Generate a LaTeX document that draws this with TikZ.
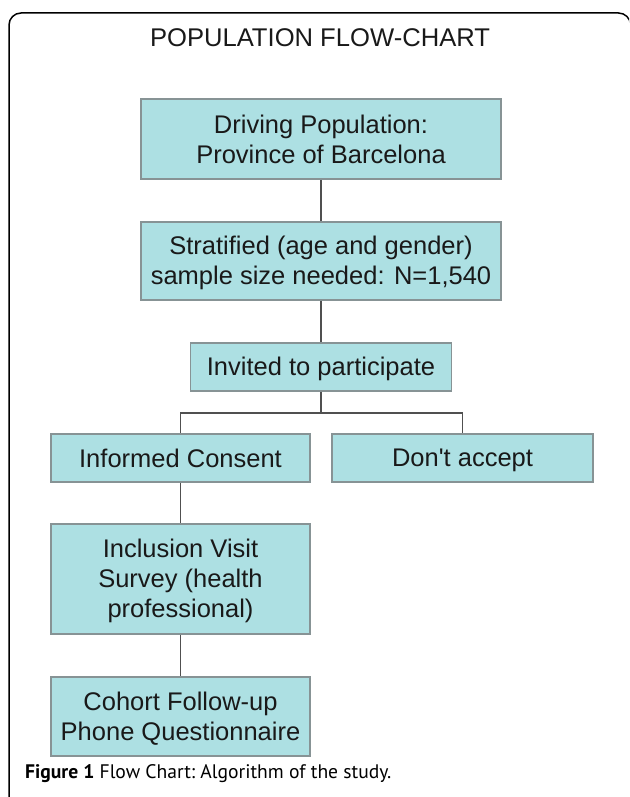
\documentclass[tikz,border=0pt]{standalone}
\usepackage{fontspec}
\setmainfont{Liberation Sans}
\newfontfamily\capfont{PT Sans}
\definecolor{boxfill}{RGB}{173,224,227}
\definecolor{boxline}{RGB}{135,147,149}
\definecolor{conn}{RGB}{80,80,80}
\definecolor{txt}{RGB}{25,25,25}
\newcommand\bs{\rule[-4pt]{0pt}{26.4pt}}
\begin{document}
\begin{tikzpicture}[x=1pt,y=-1pt,
  stepbox/.style={draw=boxline, line width=1.8pt, fill=boxfill, text=txt,
    font=\fontsize{25.5}{30}\selectfont, align=center, inner sep=0pt},
  link/.style={draw=conn, line width=1.6pt},
  frame/.style={draw=black, line width=1.5pt, rounded corners=12pt}]
\useasboundingbox (0,0) rectangle (629,797);
\clip (0,0) rectangle (629,797);
\draw[frame] (9,830) -- (9,13) -- (630.5,13) -- (630.5,830);
\node[anchor=base, text=txt, font=\fontsize{25.6}{30}\selectfont, inner sep=0pt] (title) at (320,47) {POPULATION FLOW-CHART};
\node[stepbox, minimum width=360pt, minimum height=80pt] (b1) at (321,139) {\bs Driving Population:\\\bs Province of Barcelona};
\node[stepbox, minimum width=360pt, minimum height=78pt] (b2) at (321,261) {\bs Stratified (age and gender)\\\bs sample size needed: N=1,540};
\node[stepbox, minimum width=261pt, minimum height=48pt] (b3) at (321,367) {\bs Invited to participate};
\node[stepbox, minimum width=259pt, minimum height=48pt] (b4) at (180.5,458) {\bs Informed Consent};
\node[stepbox, minimum width=261pt, minimum height=48pt] (b5) at (462.5,458) {\bs Don\textquotesingle t accept};
\node[stepbox, minimum width=259pt, minimum height=110pt] (b6) at (180.5,579) {\bs Inclusion Visit\\\bs Survey (health\\\bs professional)};
\node[stepbox, minimum width=259pt, minimum height=79pt] (b7) at (180.5,716.5) {\bs Cohort Follow-up\\\bs Phone Questionnaire};
\coordinate (j) at (321,413);
\draw[link] (b1.south) -- (b2.north);
\draw[link] (b2.south) -- (b3.north);
\draw[link] (b3.south) -- (j);
\draw[link] (b4.north) |- (j) -| (b5.north);
\draw[link] (b4.south) -- (b6.north);
\draw[link] (b6.south) -- (b7.north);
\node[anchor=base west, inner sep=0pt, text=black, font=\capfont\fontsize{19.6}{24}\selectfont] (cap) at (25,778) {\frenchspacing\textbf{Figure 1} Flow Chart: Algorithm of the study.};
\end{tikzpicture}
\end{document}
